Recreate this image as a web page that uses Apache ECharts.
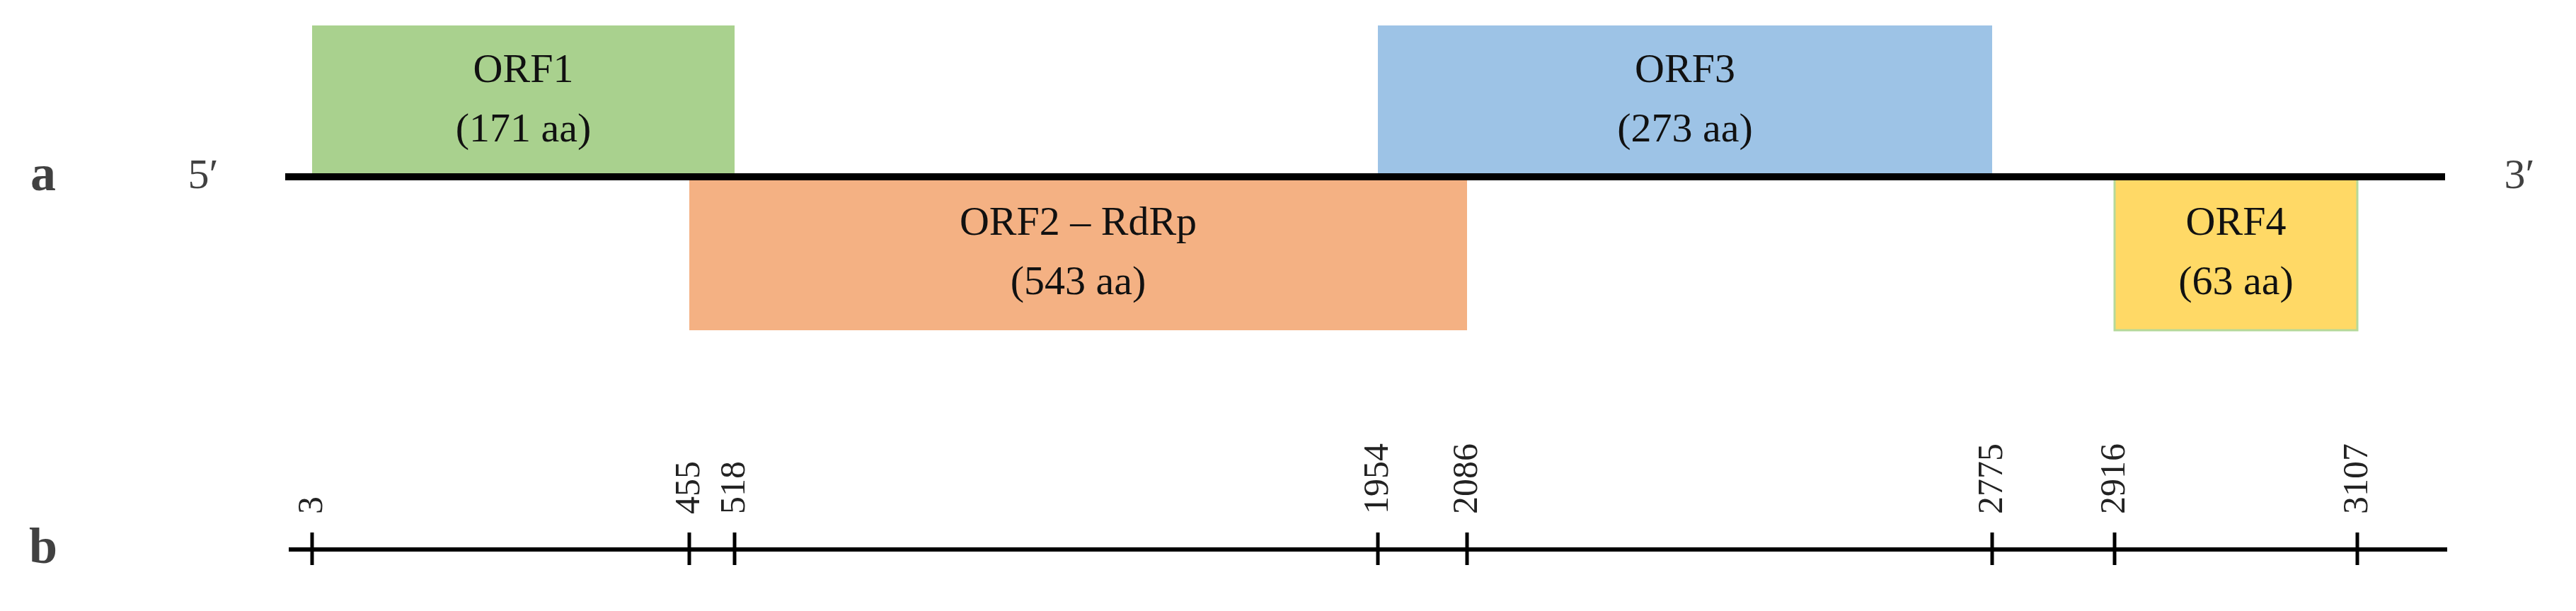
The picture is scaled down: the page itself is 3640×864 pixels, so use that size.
<!DOCTYPE html>
<html>
<head>
<meta charset="utf-8">
<script src="https://cdn.jsdelivr.net/npm/echarts@6/dist/echarts.min.js"></script>
<style>html,body{margin:0;padding:0;background:#fff}#main{width:3640px;height:864px}</style>
</head>
<body>
<div id="main"></div>
<script>
// genome coordinates (nt) and where each one sits along the drawn (schematic, not to scale) map
var tickNt = [3, 455, 518, 1954, 2086, 2775, 2916, 3107];
var tickPos = [441, 974, 1038, 1947, 2073, 2815, 2988, 3331];
// ORFs: start/end given as indices into the tick arrays
var orfNames = ['ORF1', 'ORF2 \u2013 RdRp', 'ORF3', 'ORF4'];
var orfLen = ['171 aa', '543 aa', '273 aa', '63 aa'];
var orfStart = [0, 1, 3, 6];
var orfEnd = [2, 4, 5, 7];
var orfStrand = [1, -1, 1, -1]; // above / below genome line
var orfColors = ['#a9d18e', '#f4b183', '#9dc3e6', '#ffd966'];
var genomeSpan = [403, 3455];
var rulerSpan = [408, 3458];

var FONT = '"Liberation Serif", "DejaVu Serif", serif';
var BOX_H = 214, RULER_Y = -527;

var chart = echarts.init(document.getElementById('main'));

var boxData = [];
for (let i = 0; i < orfNames.length; i++) {
    boxData.push([tickPos[orfStart[i]], tickPos[orfEnd[i]], orfStrand[i], i]);
}
var tickData = [];
for (let i = 0; i < tickNt.length; i++) {
    tickData.push([tickPos[i], tickNt[i]]);
}

chart.setOption({
    animation: false,
    grid: {left: 0, right: 0, top: 0, bottom: 0},
    xAxis: {type: 'value', min: 0, max: 3640, show: false},
    yAxis: {type: 'value', min: -614, max: 250, show: false},
    series: [{
        type: 'custom',
        data: boxData,
        renderItem: function (params, api) {
            var s = api.value(2);
            var i = api.value(3);
            var p0 = api.coord([api.value(0), s > 0 ? BOX_H : 0]);
            var p1 = api.coord([api.value(1), s > 0 ? 0 : -BOX_H - 3]);
            return {
                type: 'group',
                children: [{
                    type: 'rect',
                    shape: {x: p0[0], y: p0[1], width: p1[0] - p0[0], height: p1[1] - p0[1]},
                    style: {fill: orfColors[i], stroke: i === 3 ? '#b5d99a' : null, lineWidth: 3}
                }, {
                    type: 'text',
                    z2: 10,
                    style: {
                        text: orfNames[i] + '\n(' + orfLen[i] + ')',
                        x: (p0[0] + p1[0]) / 2, y: (p0[1] + p1[1]) / 2,
                        align: 'center', verticalAlign: 'middle',
                        font: '58px ' + FONT, lineHeight: 84, fill: '#111'
                    }
                }]
            };
        }
    }, {
        type: 'line',
        data: [[genomeSpan[0], 0], [genomeSpan[1], 0]],
        symbol: 'none',
        lineStyle: {color: '#000', width: 10},
        z: 5
    }, {
        type: 'line',
        data: [[rulerSpan[0], RULER_Y], [rulerSpan[1], RULER_Y]],
        symbol: 'none',
        lineStyle: {color: '#000', width: 6}
    }, {
        type: 'custom',
        data: tickData,
        renderItem: function (params, api) {
            var p = api.coord([api.value(0), RULER_Y]);
            return {
                type: 'group',
                children: [{
                    type: 'line',
                    shape: {x1: p[0], y1: p[1] - 24, x2: p[0], y2: p[1] + 22},
                    style: {stroke: '#000', lineWidth: 5}
                }, {
                    type: 'text',
                    x: p[0] + 1, y: p[1] - 50,
                    rotation: Math.PI / 2,
                    style: {
                        text: String(api.value(1)), x: 0, y: 0,
                        align: 'left', verticalAlign: 'middle',
                        font: '50px ' + FONT, fill: '#222'
                    }
                }]
            };
        }
    }, {
        type: 'scatter',
        symbolSize: 0,
        data: [
            {value: [61, 0], label: {formatter: 'a', fontWeight: 'bold', fontSize: 72}},
            {value: [287, 0], label: {formatter: '5\u2032', fontSize: 60}},
            {value: [3560, 0], label: {formatter: '3\u2032', fontSize: 60}},
            {value: [61, RULER_Y], label: {formatter: 'b', fontWeight: 'bold', fontSize: 72}}
        ],
        label: {show: true, position: 'inside', color: '#111', fontFamily: FONT},
        silent: true
    }]
});
</script>
</body>
</html>
